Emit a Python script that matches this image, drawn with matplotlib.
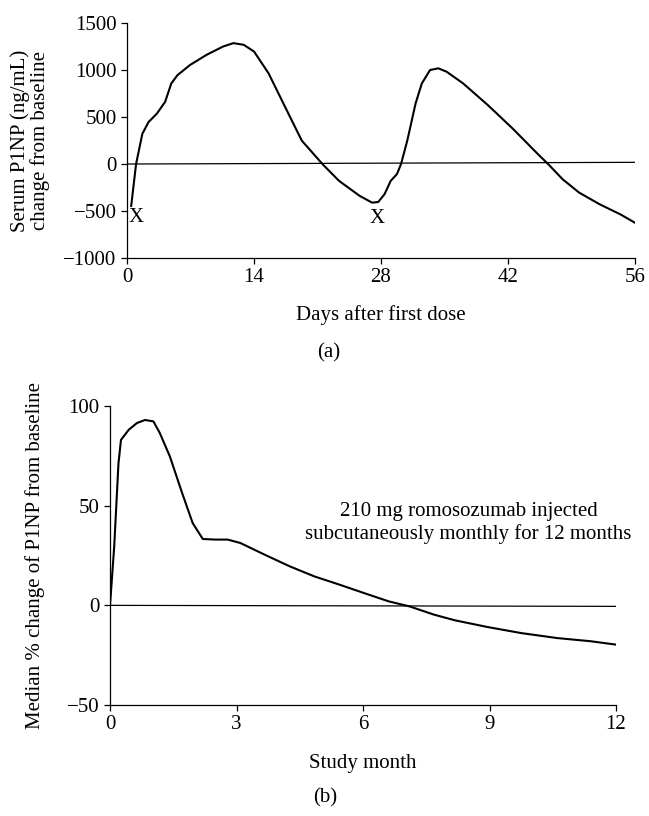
import matplotlib
matplotlib.use("Agg")
from matplotlib import pyplot as plt

plt.rcParams["font.family"] = ["Liberation Serif", "DejaVu Serif"]
plt.rcParams["font.size"] = 15

# (a) serum P1NP change from baseline, ng/mL
days = [0.46, 1.0, 1.69, 2.37, 3.29, 4.2, 4.88, 5.57, 6.94, 8.76, 10.59, 11.73,
        12.87, 14.01, 15.61, 17.43, 19.26, 21.54, 23.37, 25.65, 27.02, 27.7,
        28.39, 29.07, 29.76, 30.21, 30.9, 31.81, 32.5, 33.41, 34.32, 35.23,
        37.06, 39.8, 42.54, 45.28, 46.42, 48.01, 49.84, 52.12, 54.4, 56.0]
p1np = [-446, 0, 321, 446, 536, 661, 857, 946, 1053, 1161, 1250, 1286,
        1268, 1196, 964, 607, 250, 0, -179, -339, -411, -404,
        -321, -179, -107, 0, 250, 643, 857, 1000, 1018, 982,
        857, 625, 375, 107, 0, -161, -304, -429, -536, -625]
base_a_x = [0, 56]
base_a_y = [0, 18]
dose_days = [1.0, 27.6]
dose_y = [-571, -578]

# (b) median % change of P1NP
months = [0, 0.1, 0.2, 0.26, 0.44, 0.64, 0.83, 1.03, 1.18, 1.42, 1.71, 1.96,
          2.2, 2.5, 2.79, 3.09, 3.67, 4.26, 4.85, 5.44, 6.02, 6.61, 7.1,
          7.69, 8.18, 8.96, 9.75, 10.6, 11.4, 12.0]
pct = [0, 29.6, 71, 83, 88, 91.5, 93, 92.3, 86.5, 74.7, 56.4, 41.3,
       33.3, 33, 33, 31.3, 25.4, 19.6, 14.5, 10.4, 6.2, 2, -0.5,
       -4.7, -7.5, -10.9, -13.9, -16.4, -18, -19.7]
base_b_x = [0, 12]
base_b_y = [0, -0.5]

fig = plt.figure(figsize=(6.49, 8.16), dpi=100)
ax1 = fig.add_axes([0.1957, 0.6838, 0.7827, 0.288])
ax2 = fig.add_axes([0.1695, 0.1360, 0.7797, 0.3664])

for ax in (ax1, ax2):
    for s in ("top", "right"):
        ax.spines[s].set_visible(False)
    for s in ("left", "bottom"):
        ax.spines[s].set_linewidth(0.9)
    ax.tick_params(direction="out", length=4.5, width=0.9, labelsize=15, pad=3)

ax1.plot(days, p1np, color="black", lw=1.5)
ax1.plot(base_a_x, base_a_y, color="black", lw=0.9)
for dx, dy in zip(dose_days, dose_y):
    ax1.text(dx, dy, "X", ha="center", va="center", fontsize=15)
ax1.set_xlim(0, 56)
ax1.set_ylim(-1000, 1500)
ax1.set_xticks([0, 14, 28, 42, 56])
ax1.set_yticks([-1000, -500, 0, 500, 1000, 1500])
ax1.set_xlabel("Days after first dose")
ax1.set_ylabel("Serum P1NP (ng/mL)\nchange from baseline", linespacing=1.0)
ax1.yaxis.set_label_coords(-0.152, 0.5)
ax1.xaxis.set_label_coords(0.5, -0.2)

ax2.plot(months, pct, color="black", lw=1.5)
ax2.plot(base_b_x, base_b_y, color="black", lw=0.9)
ax2.text(8.5, 41.3, "210 mg romosozumab injected\nsubcutaneously monthly for 12 months",
         ha="center", va="center", fontsize=15, linespacing=1.2)
ax2.set_xlim(0, 12)
ax2.set_ylim(-50, 100)
ax2.set_xticks([0, 3, 6, 9, 12])
ax2.set_yticks([-50, 0, 50, 100])
ax2.set_xlabel("Study month")
ax2.set_ylabel("Median % change of P1NP from baseline")
ax2.yaxis.set_label_coords(-0.128, 0.5)
ax2.xaxis.set_label_coords(0.5, -0.164)

fig.text(329 / 649, 1 - 353 / 816, "(a)", ha="center", va="center", fontsize=15)
fig.text(325 / 649, 1 - 798 / 816, "(b)", ha="center", va="center", fontsize=15)

plt.savefig("out.png", dpi=100)
plt.close()
